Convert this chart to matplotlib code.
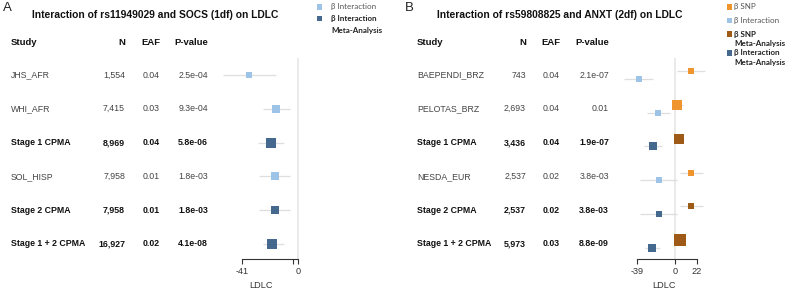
import matplotlib
matplotlib.use("Agg")
import matplotlib.pyplot as plt
from matplotlib.patches import Rectangle

plt.rcParams['font.family'] = ['Liberation Sans', 'DejaVu Sans']

# ---- data, panel A: rs11949029 x SOCS (1df)
a_studies = ["JHS_AFR", "WHI_AFR", "Stage 1 CPMA", "SOL_HISP", "Stage 2 CPMA", "Stage 1 + 2 CPMA"]
a_n = ["1,554", "7,415", "8,969", "7,958", "7,958", "16,927"]
a_eaf = ["0.04", "0.03", "0.04", "0.01", "0.01", "0.02"]
a_p = ["2.5e-04", "9.3e-04", "5.8e-06", "1.8e-03", "1.8e-03", "4.1e-08"]
a_meta = [False, False, True, False, True, True]
a_int = [-35.9, -16.0, -20.0, -17.0, -17.0, -19.2]
a_int_lo = [-55.3, -26.0, -29.3, -28.6, -29.0, -25.8]
a_int_hi = [-16.3, -6.1, -10.5, -6.1, -6.1, -10.5]
a_int_w = [5, 8, 9, 7, 7, 10]
a_ticks = [-41, -4, 0]
a_ticklabels = ["-41", "", "0"]

# ---- data, panel B: rs59808825 x ANXT (2df)
b_studies = ["BAEPENDI_BRZ", "PELOTAS_BRZ", "Stage 1 CPMA", "NESDA_EUR", "Stage 2 CPMA", "Stage 1 + 2 CPMA"]
b_n = ["743", "2,693", "3,436", "2,537", "2,537", "5,973"]
b_eaf = ["0.04", "0.04", "0.04", "0.02", "0.02", "0.03"]
b_p = ["2.1e-07", "0.01", "1.9e-07", "3.8e-03", "3.8e-03", "8.8e-09"]
b_meta = [False, False, True, False, True, True]
b_snp = [15.6, 2.0, 3.7, 15.9, 16.3, 4.7]
b_snp_lo = [2.0, -3.6, -2.0, 4.7, 4.7, -1.0]
b_snp_hi = [30.0, 7.8, 9.0, 27.6, 28.0, 10.0]
b_snp_w = [5, 10, 10, 6, 6, 11]
b_int = [-36.7, -17.2, -23.0, -16.5, -16.5, -23.5]
b_int_lo = [-52.0, -29.0, -31.6, -35.7, -35.7, -31.0]
b_int_hi = [-22.3, -5.4, -13.8, 2.0, 2.0, -15.6]
b_int_w = [5, 6, 7, 5, 5, 8]
b_ticks = [-39, 0, 22]
b_ticklabels = ["-39", "0", "22"]

# colours
C_INT = "#9dc3e6"
C_INT_META = "#45688e"
C_SNP = "#f0952e"
C_SNP_META = "#9e5b18"
C_CI = "#dedede"
C_ZERO = "#e6e6e6"

W, H = 790, 290
fig = plt.figure(figsize=(W / 100, H / 100), dpi=100)


def fx(x):
    return x / W


def fy(y):
    return 1 - y / H


def txt(x, y, s, ha="left", bold=False, size=6.3, color=None, family=None):
    if color is None:
        color = "#111111" if bold else "#444444"
    kw = {}
    if family:
        kw["family"] = family
    fig.text(fx(x), fy(y), s, ha=ha, va="center", fontsize=size,
             fontweight="bold" if bold else "normal", color=color, **kw)


ROW0, ROWSTEP = 75, 33.8


def row_y(i):
    return ROW0 + ROWSTEP * i


def table(x_study, x_n, x_eaf, x_p, studies, n, eaf, p, meta):
    for x, s, ha in [(x_study, "Study", "left"), (x_n, "N", "right"),
                     (x_eaf, "EAF", "right"), (x_p, "P-value", "right")]:
        txt(x, 42.7, s, ha=ha, bold=True, size=6.8)
    for i, s in enumerate(studies):
        y = row_y(i)
        b = meta[i]
        txt(x_study, y, s, bold=b)
        txt(x_n, y, n[i], ha="right", bold=b)
        txt(x_eaf, y, eaf[i], ha="right", bold=b)
        txt(x_p, y, p[i], ha="right", bold=b)


def forest_axes(left, right, zero_px, px_per_unit, ticks, ticklabels):
    top, bottom = 58, 259
    ax = fig.add_axes([fx(left), fy(bottom), (right - left) / W, (bottom - top) / H])
    ax.set_xlim((left - zero_px) / px_per_unit, (right - zero_px) / px_per_unit)
    ax.set_ylim((bottom - ROW0) / ROWSTEP, (top - ROW0) / ROWSTEP)
    ax.patch.set_alpha(0)
    for sp in ["top", "right", "left"]:
        ax.spines[sp].set_visible(False)
    ax.spines["bottom"].set_color("#333333")
    ax.spines["bottom"].set_linewidth(0.8)
    ax.spines["bottom"].set_bounds(ticks[0], ticks[-1])
    ax.set_yticks([])
    ax.set_xticks(ticks)
    ax.set_xticklabels(ticklabels)
    ax.tick_params(axis="x", length=3.6, width=0.8, color="#333333",
                   labelsize=6.6, labelcolor="#333333", pad=2.5)
    ax.axvline(0, color=C_ZERO, lw=1.2, zorder=0)
    return ax


def draw_series(ax, est, lo, hi, w, meta, c, c_meta, offset):
    for i in range(len(est)):
        y = i + offset
        ax.plot([lo[i], hi[i]], [y, y], color=C_CI, lw=0.9, zorder=1, solid_capstyle="butt")
        ax.plot(est[i], y, marker="s", ls="none", markersize=w[i] * 0.75,
                color=c_meta if meta[i] else c, markeredgewidth=0, zorder=2)


def legend(x_sq, x_txt, entries, line_gap):
    for y, color, lines, bold in entries:
        fig.add_artist(Rectangle((fx(x_sq - 2.8), fy(y + 2.8)), 5.6 / W, 5.6 / H,
                                 transform=fig.transFigure, color=color, lw=0))
        for k, line in enumerate(lines):
            txt(x_txt, y + line_gap * k, line, bold=bold, size=5.8,
                color="#222222" if bold else "#555555", family=["Lato", "DejaVu Sans"])


# ---------------- panel A
txt(3, 8, "A", size=9.5, color="#222222")
txt(155, 15.5, "Interaction of rs11949029 and SOCS (1df) on LDLC", ha="center", bold=True, size=7.4)
table(11, 125, 160, 208, a_studies, a_n, a_eaf, a_p, a_meta)
axA = forest_axes(205, 315, 298.3, 1.366, a_ticks, a_ticklabels)
draw_series(axA, a_int, a_int_lo, a_int_hi, a_int_w, a_meta, C_INT, C_INT_META, 0)
txt(261, 286, "LDLC", ha="center", size=6.6, color="#333333")
legend(319.5, 331, [(6.7, C_INT, ["β Interaction"], False),
                    (18.3, C_INT_META, ["β Interaction", "Meta-Analysis"], True)], 12.7)

# ---------------- panel B
txt(405, 8, "B", size=9.5, color="#222222")
txt(560, 15.5, "Interaction of rs59808825 and ANXT (2df) on LDLC", ha="center", bold=True, size=7.4)
table(417, 526, 560, 609, b_studies, b_n, b_eaf, b_p, b_meta)
axB = forest_axes(615, 715, 675.3, 0.99, b_ticks, b_ticklabels)
draw_series(axB, b_snp, b_snp_lo, b_snp_hi, b_snp_w, b_meta, C_SNP, C_SNP_META, -0.11)
draw_series(axB, b_int, b_int_lo, b_int_hi, b_int_w, b_meta, C_INT, C_INT_META, 0.11)
txt(664, 286, "LDLC", ha="center", size=6.6, color="#333333")
legend(729.5, 734, [(7, C_SNP, ["β SNP"], False),
                    (20.5, C_INT, ["β Interaction"], False),
                    (34, C_SNP_META, ["β SNP", "Meta-Analysis"], True),
                    (53, C_INT_META, ["β Interaction", "Meta-Analysis"], True)], 9.6)

fig.savefig("out.png", dpi=100)
